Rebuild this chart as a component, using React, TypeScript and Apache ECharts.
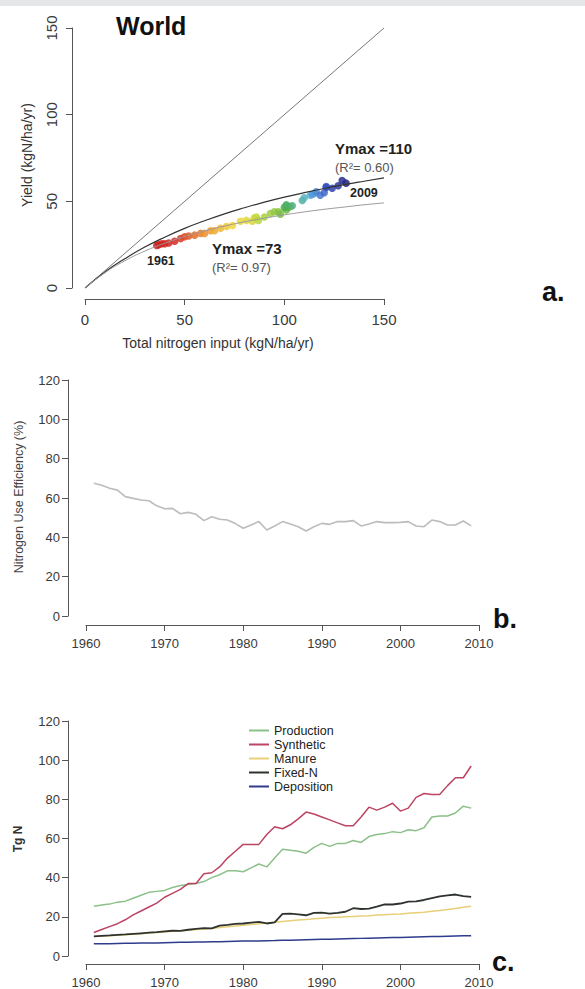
import React, { useEffect, useRef } from "react";
import * as echarts from "echarts";

const years = [
  1961, 1962, 1963, 1964, 1965, 1966, 1967, 1968, 1969, 1970,
  1971, 1972, 1973, 1974, 1975, 1976, 1977, 1978, 1979, 1980,
  1981, 1982, 1983, 1984, 1985, 1986, 1987, 1988, 1989, 1990,
  1991, 1992, 1993, 1994, 1995, 1996, 1997, 1998, 1999, 2000,
  2001, 2002, 2003, 2004, 2005, 2006, 2007, 2008, 2009,
];

// Panel a: total N input vs yield, one point per year
const scatterInput = [
  36, 37, 38.5, 40, 42, 45, 48, 50, 52, 55,
  58, 60, 63, 65, 68, 71, 74, 78, 81, 84,
  85, 86, 87, 90, 93, 95, 97, 98, 101, 103,
  102, 101, 100, 101, 104, 109, 110, 113, 115, 114,
  116, 118, 120, 121, 121, 124, 127, 129, 131,
];
const scatterYield = [
  24.5, 25, 25.5, 25.5, 26, 27, 28.5, 29.5, 30, 30.5,
  31.5, 31.5, 33, 33, 34.5, 35.5, 36, 38.5, 39, 38.5,
  40.5, 41, 39, 41, 43, 44, 44, 42.5, 45, 47,
  46.5, 47.5, 46.5, 48, 47.5, 50.5, 52, 53.5, 54.5, 54,
  55.5, 53.5, 55, 58.5, 58, 57.5, 59, 62, 60.5,
];

const curveX = [0, 10, 20, 30, 40, 50, 60, 70, 80, 90, 100, 110, 120, 130, 140, 150];
const curveYmax110 = [0, 9.2, 16.9, 23.6, 29.3, 34.4, 38.8, 42.8, 46.3, 49.5, 52.4, 55, 57.4, 59.6, 61.6, 63.5];
const curveYmax73 = [0, 8.8, 15.7, 21.3, 25.8, 29.7, 32.9, 35.7, 38.2, 40.3, 42.2, 43.9, 45.4, 46.7, 48, 49.1];
const oneToOneX = [0, 150];
const oneToOneY = [0, 150];

// Panel b: nitrogen use efficiency (%)
const nue = [
  67.5, 66.5, 65, 64, 60.7, 59.8, 59, 58.6, 56, 54.5,
  54.7, 52, 52.7, 51.7, 48.5, 50.5, 49.2, 48.8, 47, 44.6,
  46.3, 48, 43.7, 45.8, 48, 46.8, 45.4, 43.2, 45.4, 47.1,
  46.6, 48, 48, 48.5, 45.8, 46.8, 48, 47.5, 47.5, 47.6,
  48, 45.8, 45.4, 48.8, 48, 46.3, 46.3, 48.3, 45.8,
];

// Panel c: Tg N
const production = [
  25.4, 26, 26.5, 27.5, 28, 29.5, 31, 32.5, 33, 33.5,
  35, 36, 36.5, 37, 38, 40, 41.5, 43.5, 43.5, 43,
  45, 47, 45.5, 50, 54.5, 54, 53.5, 52.5, 55.5, 57.5,
  56, 57.5, 57.5, 59, 58, 61, 62, 62.5, 63.5, 63,
  64.5, 64, 65.5, 71, 71.5, 71.5, 73, 76.5, 75.5,
];
const synthetic = [
  12, 13.5, 15, 16.5, 18.5, 21, 23, 25, 27, 30,
  32, 34, 37, 37, 42, 42.5, 45.5, 50, 53.5, 57,
  57, 57, 62, 66, 65, 67, 70, 73.5, 72.5, 71,
  69.5, 68, 66.5, 66.5, 71, 76, 74.5, 76, 78, 74,
  75.5, 81, 83, 82.5, 82.5, 87, 91, 91, 97,
];
const manure = [
  10, 10.2, 10.4, 10.6, 10.9, 11.1, 11.4, 11.7, 12, 12.3,
  12.6, 12.9, 13.2, 13.5, 13.8, 14.1, 14.5, 14.9, 15.3, 15.7,
  16.1, 16.5, 16.8, 17.2, 17.6, 18, 18.4, 18.7, 19, 19.3,
  19.6, 19.8, 20, 20.2, 20.4, 20.6, 20.9, 21.1, 21.3, 21.5,
  21.8, 22.1, 22.4, 22.8, 23.2, 23.7, 24.3, 24.9, 25.4,
];
const fixedN = [
  10, 10.3, 10.5, 10.8, 11, 11.3, 11.6, 11.9, 12.2, 12.6,
  12.9, 12.8, 13.4, 13.8, 14.2, 14.1, 15.5, 15.9, 16.4, 16.6,
  17, 17.4, 16.6, 17.2, 21.5, 21.6, 21.3, 20.8, 22, 22.1,
  21.6, 22, 22.6, 24.4, 24, 24.2, 25.2, 26.4, 26.3, 26.8,
  27.8, 27.9, 28.6, 29.6, 30.5, 31, 31.4, 30.6, 30.2,
];
const deposition = [
  6.2, 6.3, 6.3, 6.4, 6.5, 6.5, 6.6, 6.7, 6.7, 6.8,
  6.9, 7, 7, 7.1, 7.2, 7.3, 7.3, 7.4, 7.5, 7.6,
  7.6, 7.7, 7.8, 7.9, 8.1, 8.1, 8.2, 8.3, 8.4, 8.5,
  8.6, 8.7, 8.8, 8.9, 9, 9.1, 9.2, 9.3, 9.4, 9.5,
  9.6, 9.7, 9.8, 9.9, 10, 10.1, 10.2, 10.3, 10.4,
];

const seriesNames = ["Production", "Synthetic", "Manure", "Fixed-N", "Deposition"];
const seriesColors = ["#8cc08a", "#bc4462", "#e8cf78", "#2e332e", "#2f3b8c"];
const yearPalette = ["#cc1f1f", "#d62a22", "#ec8a2a", "#f2d63c", "#c2d83e", "#7cc043", "#4aae4a", "#5cb6e2", "#3a5cc8", "#24227e"];

const pair = (xs: number[], ys: number[]) => xs.map((x, i) => [x, ys[i]]);

export default function App() {
  const ref = useRef<HTMLDivElement>(null);
  useEffect(() => {
    document.body.style.margin = "0";
    const chart = echarts.init(ref.current!, null, { renderer: "svg" });
    const font = "Liberation Sans, Arial, sans-serif";
    const plain = (v: number) => String(v);
    const axisCommon = (extra: any) => ({
      axisLine: { show: true, onZero: false, lineStyle: { color: "#555", width: 1 } },
      axisTick: { show: true, length: 6, lineStyle: { color: "#555" } },
      splitLine: { show: false },
      ...extra,
    });
    const lbl = (size: number, margin: number, more: any = {}) => ({
      color: "#3a3a3a", fontFamily: font, fontSize: size, margin, formatter: plain, ...more,
    });
    const cSeries = [production, synthetic, manure, fixedN, deposition];
    const option: any = {
      animation: false,
      backgroundColor: "#ffffff",
      textStyle: { fontFamily: font },
      grid: [
        { left: 85, top: 28, width: 299, height: 260 },
        { left: 86, top: 380, width: 393, height: 236 },
        { left: 86, top: 721, width: 393, height: 236 },
      ],
      xAxis: [
        axisCommon({ type: "value", gridIndex: 0, min: 0, max: 150, interval: 50, offset: 11, axisLabel: lbl(15, 13) }),
        axisCommon({ type: "value", gridIndex: 1, min: 1960, max: 2010, interval: 10, offset: 9, axisLabel: lbl(13, 12) }),
        axisCommon({ type: "value", gridIndex: 2, min: 1960, max: 2010, interval: 10, offset: 8, axisLabel: lbl(13, 12) }),
      ],
      yAxis: [
        axisCommon({ type: "value", gridIndex: 0, min: 0, max: 150, interval: 50, offset: 13, axisLabel: lbl(15, 13, { rotate: 90 }) }),
        axisCommon({ type: "value", gridIndex: 1, min: 0, max: 120, interval: 20, offset: 18, axisLabel: lbl(13, 8) }),
        axisCommon({ type: "value", gridIndex: 2, min: 0, max: 120, interval: 20, offset: 18, axisLabel: lbl(13, 8) }),
      ],
      legend: {
        left: 244, top: 719, orient: "vertical", itemWidth: 20, itemHeight: 2, itemGap: 1,
        icon: "rect", selectedMode: false, data: seriesNames,
        textStyle: { fontFamily: font, fontSize: 12.5, color: "#222", lineHeight: 13 },
      },
      visualMap: {
        type: "continuous", show: false, seriesIndex: 3, dimension: 2, min: 1961, max: 2009,
        inRange: { color: yearPalette },
      },
      series: [
        {
          type: "line", xAxisIndex: 0, yAxisIndex: 0, data: pair(oneToOneX, oneToOneY),
          showSymbol: false, lineStyle: { color: "#777", width: 1 }, silent: true,
        },
        {
          type: "line", xAxisIndex: 0, yAxisIndex: 0, data: pair(curveX, curveYmax110), smooth: true,
          showSymbol: false, lineStyle: { color: "#333", width: 1.2 }, silent: true,
        },
        {
          type: "line", xAxisIndex: 0, yAxisIndex: 0, data: pair(curveX, curveYmax73), smooth: true,
          showSymbol: false, lineStyle: { color: "#999", width: 1 }, silent: true,
        },
        {
          type: "scatter", xAxisIndex: 0, yAxisIndex: 0, symbolSize: 7.5,
          data: years.map((y, i) => [scatterInput[i], scatterYield[i], y]),
          itemStyle: { opacity: 0.85 },
        },
        {
          type: "line", xAxisIndex: 1, yAxisIndex: 1, data: pair(years, nue),
          showSymbol: false, lineStyle: { color: "#bcbcbc", width: 1.6 },
        },
        ...cSeries.map((d, i) => ({
          name: seriesNames[i], type: "line", xAxisIndex: 2, yAxisIndex: 2, data: pair(years, d),
          showSymbol: false, color: seriesColors[i],
          lineStyle: { color: seriesColors[i], width: i === 3 ? 1.8 : 1.5 },
        })),
      ],
      graphic: [
        { type: "rect", shape: { x: 0, y: 0, width: 585, height: 6 }, style: { fill: "#e5e6e8" } },
        { type: "text", x: 116, y: 26, style: { text: "World", font: `bold 25px ${font}`, fill: "#111", textVerticalAlign: "middle" } },
        { type: "text", x: 27, y: 155, rotation: Math.PI / 2, style: { text: "Yield (kgN/ha/yr)", font: `14px ${font}`, fill: "#333", textAlign: "center", textVerticalAlign: "middle" } },
        { type: "text", x: 218, y: 343, style: { text: "Total nitrogen input (kgN/ha/yr)", font: `14px ${font}`, fill: "#333", textAlign: "center", textVerticalAlign: "middle" } },
        { type: "text", x: 19, y: 497, rotation: Math.PI / 2, style: { text: "Nitrogen Use Efficiency (%)", font: `12.5px ${font}`, fill: "#444", textAlign: "center", textVerticalAlign: "middle" } },
        { type: "text", x: 18, y: 839, rotation: Math.PI / 2, style: { text: "Tg N", font: `bold 12px ${font}`, fill: "#333", textAlign: "center", textVerticalAlign: "middle" } },
        { type: "text", x: 335, y: 148, style: { text: "Ymax =110", font: `bold 15px ${font}`, fill: "#222", textVerticalAlign: "middle" } },
        { type: "text", x: 335, y: 167, style: { text: "(R²= 0.60)", font: `13px ${font}`, fill: "#555", textVerticalAlign: "middle" } },
        { type: "text", x: 350, y: 193, style: { text: "2009", font: `bold 12.5px ${font}`, fill: "#222", textVerticalAlign: "middle" } },
        { type: "text", x: 212, y: 248, style: { text: "Ymax =73", font: `bold 15px ${font}`, fill: "#222", textVerticalAlign: "middle" } },
        { type: "text", x: 212, y: 267, style: { text: "(R²= 0.97)", font: `13px ${font}`, fill: "#555", textVerticalAlign: "middle" } },
        { type: "text", x: 147, y: 261, style: { text: "1961", font: `bold 12.5px ${font}`, fill: "#222", textVerticalAlign: "middle" } },
        { type: "text", x: 542, y: 292, style: { text: "a.", font: `bold 27px ${font}`, fill: "#111", textVerticalAlign: "middle" } },
        { type: "text", x: 493, y: 619, style: { text: "b.", font: `bold 27px ${font}`, fill: "#111", textVerticalAlign: "middle" } },
        { type: "text", x: 492, y: 962, style: { text: "c.", font: `bold 27px ${font}`, fill: "#111", textVerticalAlign: "middle" } },
      ],
    };
    chart.setOption(option);
    return () => chart.dispose();
  }, []);
  return <div ref={ref} style={{ width: 585, height: 989 }} />;
}
